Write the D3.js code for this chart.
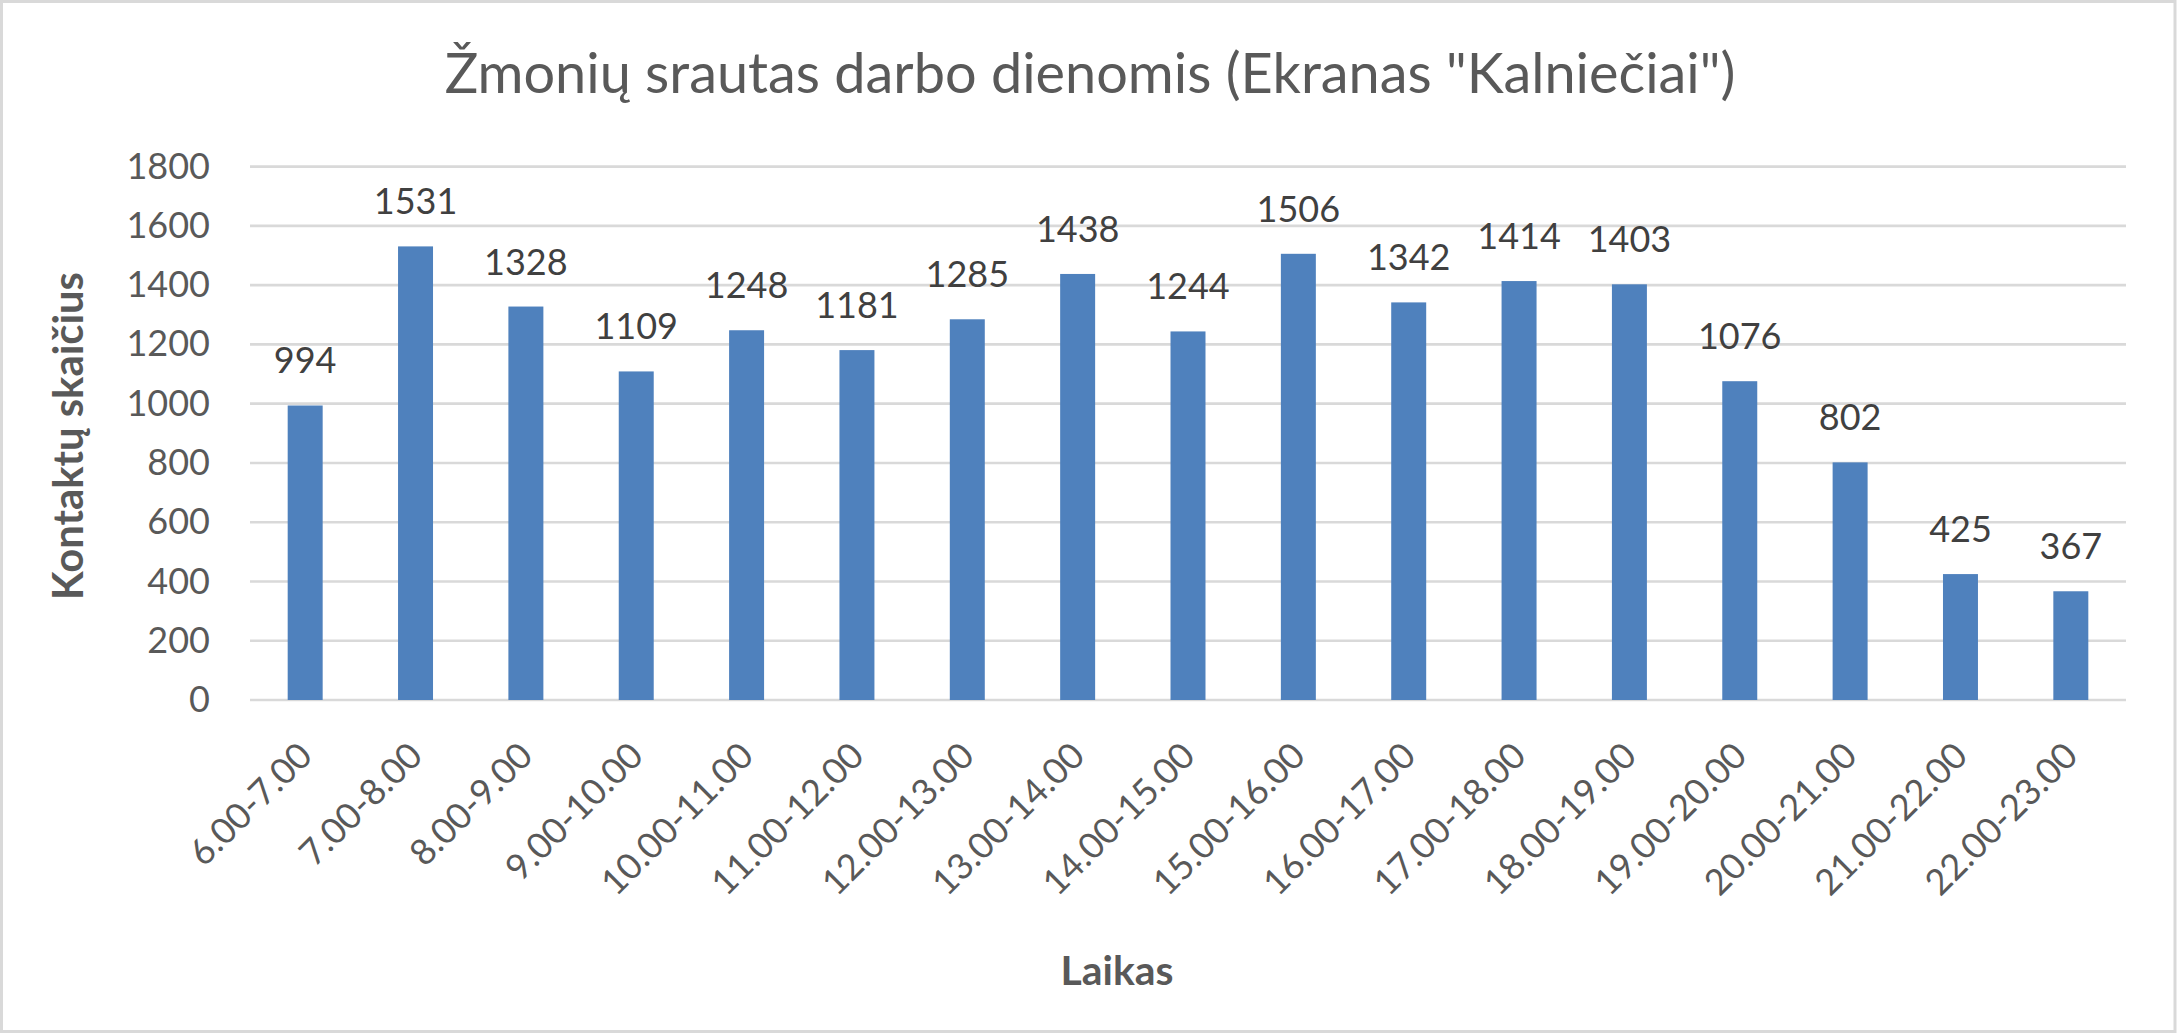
<!DOCTYPE html>
<html>
<head>
<meta charset="utf-8">
<script src="https://cdn.jsdelivr.net/npm/d3@7"></script>
<style>
html,body{margin:0;padding:0;background:#fff;}
svg{display:block;}
</style>
</head>
<body>
<svg id="chart" width="2177" height="1033"></svg>
<script>
const categories = ["6.00-7.00","7.00-8.00","8.00-9.00","9.00-10.00","10.00-11.00","11.00-12.00","12.00-13.00","13.00-14.00","14.00-15.00","15.00-16.00","16.00-17.00","17.00-18.00","18.00-19.00","19.00-20.00","20.00-21.00","21.00-22.00","22.00-23.00"];
const values = [994,1531,1328,1109,1248,1181,1285,1438,1244,1506,1342,1414,1403,1076,802,425,367];
const yTicks = [0,200,400,600,800,1000,1200,1400,1600,1800];
const titleText = 'Žmonių srautas darbo dienomis (Ekranas "Kalniečiai")';
const yTitleText = "Kontaktų skaičius";
const xTitleText = "Laikas";

const W = 2177, H = 1033;
const FONT = "Lato, 'Open Sans', sans-serif";
const svg = d3.select("#chart");

svg.append("rect").attr("x",1.5).attr("y",1.5).attr("width",W-3.5).attr("height",H-3)
  .attr("fill","#fff").attr("stroke","#d9d9d9").attr("stroke-width",3);

const x = d3.scaleBand().domain(categories).range([250,2126]).paddingInner(0.683).paddingOuter(0.3415);
const y = d3.scaleLinear().domain([0,1800]).range([700,166.7]);

// gridlines
const grid = svg.append("g");
grid.selectAll("line").data(yTicks).join("line")
  .attr("x1",250).attr("x2",2126)
  .attr("y1",d=>y(d)).attr("y2",d=>y(d))
  .attr("stroke","#d9d9d9").attr("stroke-width",2.7);

// y axis labels
const yAxis = svg.append("g").attr("transform","translate(250,0)")
  .call(d3.axisLeft(y).tickValues(yTicks).tickSize(0).tickPadding(40).tickFormat(d3.format("d")));
yAxis.select(".domain").remove();
yAxis.selectAll("text").attr("font-family",FONT).attr("font-size",36).attr("fill","#595959");

// bars
svg.append("g").selectAll("rect").data(values).join("rect")
  .attr("x",(d,i)=>x(categories[i]))
  .attr("width",x.bandwidth())
  .attr("y",d=>y(d))
  .attr("height",d=>y(0)-y(d))
  .attr("fill","#4f81bd");

// data labels
svg.append("g").selectAll("text").data(values).join("text")
  .attr("x",(d,i)=>x(categories[i])+x.bandwidth()/2)
  .attr("y",d=>y(d)-32)
  .attr("text-anchor","middle")
  .attr("font-family",FONT).attr("font-size",36).attr("fill","#404040")
  .text(d=>d);

// x axis labels
const xAxis = svg.append("g").attr("transform","translate(0,700)")
  .call(d3.axisBottom(x).tickSize(0).tickPadding(0));
xAxis.select(".domain").remove();
xAxis.selectAll("text")
  .attr("font-family",FONT).attr("font-size",36).attr("fill","#595959")
  .attr("text-anchor","end")
  .attr("dy",null)
  .attr("y",null)
  .attr("transform","translate(9,58) rotate(-45)");

function fitText(sel, target){
  const w = sel.node().getComputedTextLength();
  const fs = parseFloat(sel.attr("font-size"));
  sel.attr("font-size", fs*target/w);
}

// title
const title = svg.append("text")
  .attr("x",1090).attr("y",93).attr("text-anchor","middle")
  .attr("font-family",FONT).attr("font-weight",400).attr("font-size",56).attr("fill","#595959")
  .text(titleText);
fitText(title,1291);

// y title
const yTitle = svg.append("text")
  .attr("transform","translate(83,436) rotate(-90)")
  .attr("text-anchor","middle")
  .attr("font-family",FONT).attr("font-weight",700).attr("font-size",40).attr("fill","#595959")
  .text(yTitleText);
fitText(yTitle,328);

// x title
const xTitle = svg.append("text")
  .attr("x",1117).attr("y",985).attr("text-anchor","middle")
  .attr("font-family",FONT).attr("font-weight",700).attr("font-size",40).attr("fill","#595959")
  .text(xTitleText);
fitText(xTitle,113);
</script>
</body>
</html>
